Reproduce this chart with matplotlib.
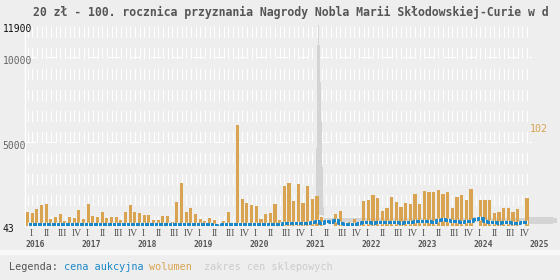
import matplotlib
matplotlib.use("Agg")
import matplotlib.pyplot as plt
import matplotlib.transforms as mtransforms
from matplotlib.patches import Rectangle

plt.rcParams["lines.scale_dashes"] = False

# the title is cut at the right edge in the source image
TITLE = "20 zł - 100. rocznica przyznania Nagrody Nobla Marii Skłodowskiej-Curie w d"

years = list(range(2016, 2026))
quarters = ["I", "II", "III", "IV"]

# monthly auction volume, 2016-01 .. 2024-12
volume = [
    14, 13, 17, 21, 22, 7, 9, 12, 5, 9, 8, 16,
    7, 22, 10, 9, 14, 8, 9, 9, 6, 14, 21, 14,
    13, 11, 11, 6, 6, 10, 10, 4, 24, 43, 14, 18,
    12, 7, 5, 8, 6, 0, 5, 14, 3, 102, 27, 23,
    21, 20, 7, 12, 13, 22, 6, 40, 43, 25, 42, 23,
    40, 27, 30, 9, 0, 0, 12, 15, 2, 4, 7, 2,
    25, 26, 31, 28, 15, 18, 29, 24, 19, 23, 22, 32,
    22, 35, 34, 34, 36, 32, 34, 18, 29, 31, 26, 37,
    0, 26, 26, 26, 13, 14, 18, 18, 14, 17, 0, 28,
]

# monthly auction price (zł), 2016-01 .. 2024-12
price = [
    120, 118, 122, 120, 125, 118, 120, 122, 118, 120, 122, 125,
    122, 120, 118, 120, 122, 125, 120, 118, 120, 122, 125, 120,
    118, 120, 122, 120, 118, 120, 122, 125, 120, 118, 120, 122,
    120, 118, 115, 110, 95, 43, 105, 118, 120, 122, 125, 130,
    140, 150, 135, 130, 140, 150, 160, 170, 165, 175, 170, 180,
    190, 230, 300, 180, 320, 260, 350, 180, 150, 160, 150, 200,
    250, 230, 220, 240, 260, 230, 250, 270, 220, 240, 260, 280,
    300, 320, 280, 260, 380, 420, 350, 300, 280, 270, 300, 330,
    420, 480, 300, 250, 230, 220, 240, 230, 220, 210, 230, 250,
]

# shop price range: weekly around the 2021 spike, then monthly up to 2025-06
shop_pos = [62.2, 62.4, 62.6, 62.8, 63.0, 63.2, 63.4, 63.6, 63.8, 64.0] + list(range(64, 115))
shop_hi = [4600, 7600, 10700, 11900, 10700, 8500, 6200, 3500, 1150, 600,
           470, 480, 460, 470, 480, 470, 460, 480,
           480, 470, 480, 490, 470, 480, 470, 480, 490, 480, 470, 480,
           490, 500, 480, 490, 500, 510, 490, 480, 490, 500, 490, 500,
           520, 500, 490, 480, 490, 480, 490, 480, 490, 500, 490, 520,
           540, 540, 540, 540, 540, 480, 480]
shop_lo = [1700, 700, 650, 650, 650, 650, 650, 650, 600, 400,
           250, 260, 250, 240, 250, 260, 250, 250,
           260, 250, 240, 250, 260, 250, 250, 240, 250, 260, 250, 250,
           260, 250, 260, 250, 240, 250, 260, 250, 250, 260, 250, 250,
           260, 250, 250, 240, 250, 260, 250, 250, 240, 250, 260, 250,
           130, 130, 130, 130, 130, 190, 190]

y_labels = [(11900, "#111111"), (10000, "#666666"), (5000, "#666666"), (43, "#111111")]

BLUE = "#1b87c9"
ORANGE = "#d8a452"
BAND = "#d4d4d4"
BG = "#eeeeee"
MONO = "DejaVu Sans Mono"

W, H = 560, 280
def fx(px):
    return px / W
def fy(py):
    return 1 - py / H

fig = plt.figure(figsize=(5.6, 2.8), dpi=100, facecolor=BG)

x_end = (W - 25.3) / 4.667
ax = fig.add_axes([fx(25.3), fy(225.5), 1 - fx(25.3), (225.5 - 25) / H])
ax.set_facecolor(BG)
ax.set_xlim(0, x_end)
ax.set_ylim(43, 11900)

n = len(volume)
centers = [m + 0.5 for m in range(n)]

# grid: crisp 1px white dashes
ax.vlines(centers, 43, 11900, colors="white", linewidth=0.72,
          linestyles=[(0, (7.2, 7.2))], antialiased=False, zorder=1)
ax.hlines([5000, 10000], 0, n + 0.3, colors="white", linewidth=0.72,
          linestyles=[(0, (7.2, 7.2))], antialiased=False, zorder=1)

# shop price range
ax.fill_between(shop_pos, shop_lo, shop_hi, step="post", color=BAND,
                linewidth=0, zorder=2)

for s in ["top", "right", "bottom"]:
    ax.spines[s].set_visible(False)
ax.spines["left"].set_color("white")
ax.spines["left"].set_linewidth(1.0)
ax.set_yticks([])
ax.set_xticks(centers)
ax.tick_params(axis="x", length=1.5, width=0.7, color="white",
               direction="out", labelbottom=False)

# volume bars
ax_vol = ax.twinx()
ax_vol.patch.set_visible(False)
ax_vol.set_ylim(0, 203.5)
ax_vol.bar(centers, volume, width=0.65, color=ORANGE, linewidth=0)
ax_vol.axis("off")

# auction price
ax_p = ax.twinx()
ax_p.patch.set_visible(False)
ax_p.set_ylim(43, 11900)
ax_p.plot(centers, price, color=BLUE, linewidth=2.2, drawstyle="steps-mid",
          solid_capstyle="butt")
ax_p.plot(centers, price, linestyle="none", marker="|", markersize=2.2,
          markeredgewidth=0.7, color="white")
ax_p.axis("off")
ax_p.set_xlim(0, x_end)

# y labels on the left
ytrans = mtransforms.blended_transform_factory(fig.transFigure, ax.transData)
ytrans = mtransforms.offset_copy(ytrans, fig=fig, x=0, y=-4, units="dots")
for val, col in y_labels:
    fig.text(fx(2.7), val, str(val), transform=ytrans, fontsize=7,
             family=MONO, color=col, ha="left", va="center")

# max volume label on the right
vtrans = mtransforms.offset_copy(ax_vol.transData, fig=fig, x=0, y=-4, units="dots")
ax_vol.text(n, max(volume), str(max(volume)), transform=vtrans, fontsize=7.2,
            family=MONO, color=ORANGE, ha="left", va="center")

# quarter and year labels
xtrans = mtransforms.blended_transform_factory(ax.transData, fig.transFigure)
for yi, yr in enumerate(years):
    m0 = yi * 12
    fig.text(m0, fy(244.5), str(yr), transform=xtrans, fontsize=5.8,
             family=MONO, weight="bold", color="#555555", ha="left", va="center")
    if yi * 12 < n:
        for qi, q in enumerate(quarters):
            fig.text(m0 + qi * 3 + 1, fy(233.5), q, transform=xtrans,
                     fontsize=7, family="Liberation Serif", color="#555555",
                     ha="left", va="center")

# title
fig.text(fx(33), fy(12.5), TITLE, fontsize=8.3, family=MONO, weight="bold",
         color="#555555", ha="left", va="center")

# separator band and legend
fig.patches.append(Rectangle((0, fy(254)), 1, 4 / H, transform=fig.transFigure,
                             color="#f9f9f9", zorder=0))
legend_parts = [("Legenda:", "#555555", 0), ("cena aukcyjna", BLUE, 9),
                ("wolumen", ORANGE, 23), ("zakres cen sklepowych", "#cccccc", 32)]
for txt, col, pos in legend_parts:
    fig.text(fx(9.3 + pos * 6.07), fy(267), txt, fontsize=7.26, family=MONO,
             color=col, ha="left", va="center")

fig.savefig("out.png", dpi=100, facecolor=BG)
